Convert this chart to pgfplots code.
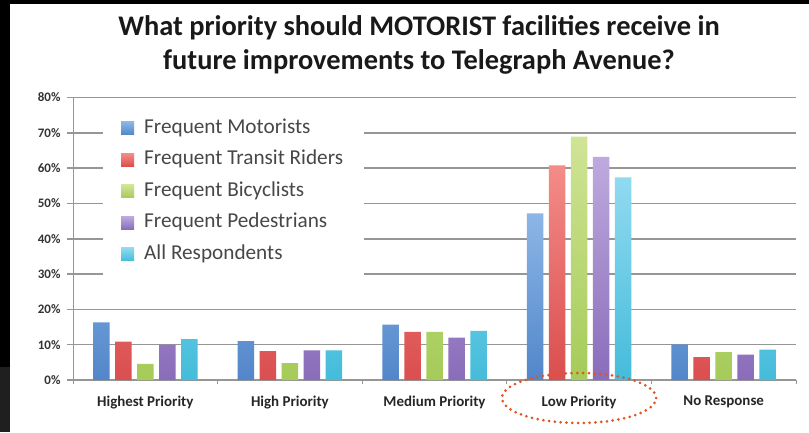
\documentclass[border=0pt]{standalone}
\usepackage{fontspec}
\setmainfont{Carlito}
\usepackage{pgfplots}
\pgfplotsset{compat=1.18}
\definecolor{bluetop}{RGB}{140,182,230}
\definecolor{bluebot}{RGB}{82,134,202}
\definecolor{redtop}{RGB}{244,140,136}
\definecolor{redbot}{RGB}{218,78,78}
\definecolor{greentop}{RGB}{208,228,150}
\definecolor{greenbot}{RGB}{165,203,88}
\definecolor{purptop}{RGB}{190,170,222}
\definecolor{purpbot}{RGB}{138,108,186}
\definecolor{cyantop}{RGB}{145,218,240}
\definecolor{cyanbot}{RGB}{68,188,218}
\definecolor{ovalcol}{RGB}{225,85,35}
\definecolor{gridcol}{RGB}{150,150,150}
\begin{document}
\begin{tikzpicture}[x=1bp,y=1bp]
\path[use as bounding box] (0,0) rectangle (809,432);
\fill[black] (0,0) rectangle (809,432);
\fill[white] (10,0) rectangle (809,428);
\fill[black!88] (0,0) rectangle (10,65);
\node[font=\bfseries\fontsize{28.5}{34}\selectfont, align=center, text=black!90] at (419,387)
  {What priority should MOTORIST facilities receive in\\future improvements to Telegraph Avenue?};
\begin{axis}[
  at={(73bp,52bp)}, anchor=south west,
  width=723bp, height=282.5bp, scale only axis,
  ymin=0, ymax=80, ytick={0,10,...,80},
  xmin=-0.5, xmax=4.5,
  xtick={0,1,2,3,4},
  xticklabels={Highest Priority,High Priority,Medium Priority,Low Priority,No Response},
  minor xtick={-0.5,0.5,1.5,2.5,3.5,4.5},
  major x tick style={draw=none},
  minor x tick style={gridcol, line width=1bp},
  minor tick length=4bp,
  major tick length=6bp,
  y tick style={gridcol, line width=1.6bp},
  tick align=outside,
  axis x line*=bottom, axis y line*=left,
  axis line style={gridcol, line width=1bp, -},
  ymajorgrids, major grid style={gridcol, line width=1.6bp},
  /pgf/number format/assume math mode=true,
  yticklabel={\pgfmathprintnumber{\tick}\%},
  yticklabel style={font=\bfseries\fontsize{13}{15}\selectfont, text=black!80, xshift=-3bp},
  xticklabel style={font=\bfseries\fontsize{15}{17}\selectfont, text=black!85, yshift=-6bp},
  ybar=5.5bp, bar width=16.5bp,
  legend style={at={(0.0415,0.973)}, anchor=north west, draw=none, fill=white,
    font=\fontsize{21.3}{24}\selectfont, text=black!72,
    inner xsep=18bp, inner ysep=11bp, row sep=7.5bp,
    nodes={inner sep=3bp, text height=14bp, text depth=4bp}},
  legend cell align=left,
  legend image code/.code={\path[#1,draw=none] (0bp,-6.5bp) rectangle (13bp,6.5bp); \path (20bp,0);},
]
\addplot[draw=none, top color=bluetop, bottom color=bluebot] coordinates {(0,16.3) (1,11.0) (2,15.7) (3,47.2) (4,10.1)};
\addplot[draw=none, top color=redtop, bottom color=redbot] coordinates {(0,10.9) (1,8.2) (2,13.6) (3,60.8) (4,6.5)};
\addplot[draw=none, top color=greentop, bottom color=greenbot] coordinates {(0,4.6) (1,4.8) (2,13.6) (3,68.9) (4,7.9)};
\addplot[draw=none, top color=purptop, bottom color=purpbot] coordinates {(0,10.0) (1,8.4) (2,12.0) (3,63.2) (4,7.2)};
\addplot[draw=none, top color=cyantop, bottom color=cyanbot] coordinates {(0,11.6) (1,8.4) (2,13.9) (3,57.4) (4,8.6)};
\legend{Frequent Motorists, Frequent Transit Riders, Frequent Bicyclists, Frequent Pedestrians, All Respondents}
\end{axis}
\draw[ovalcol, line width=3bp, dash pattern=on 0pt off 5.8bp, line cap=round] (579,34) ellipse [x radius=77, y radius=25];
\end{tikzpicture}
\end{document}
